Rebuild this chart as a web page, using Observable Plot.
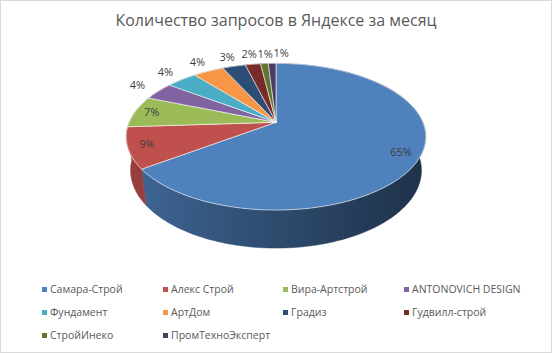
<!DOCTYPE html>
<html>
<head>
<meta charset="utf-8">
<script src="https://cdn.jsdelivr.net/npm/d3@7"></script>
<script src="https://cdn.jsdelivr.net/npm/@observablehq/plot@0.6"></script>
<style>
  html, body { margin: 0; padding: 0; background: #fff; }
  #chart { position: relative; width: 552px; height: 353px; box-sizing: border-box; border: 1px solid #d9d9d9; background: #fff; overflow: hidden; font-family: "Open Sans", sans-serif; }
  #title { position: absolute; left: 0; right: 0; top: 9px; text-align: center; font-size: 16px; line-height: 20px; color: #595959; }
  #plot { position: absolute; left: -1px; top: -1px; }
  #legend { position: absolute; left: 0; top: 0; width: 552px; height: 353px; }
  .item { position: absolute; font-size: 10.5px; line-height: 14px; color: #595959; white-space: nowrap; }
  .sw { display: inline-block; width: 5px; height: 5px; margin-right: 3px; vertical-align: 1px; }
</style>
</head>
<body>
<div id="chart">
  <div id="plot"></div>
  <div id="title">Количество запросов в Яндексе за месяц</div>
  <div id="legend"></div>
</div>
<script>
const categories = ["Самара-Строй","Алекс Строй","Вира-Артстрой","ANTONOVICH DESIGN","Фундамент","АртДом","Градиз","Гудвилл-строй","СтройИнеко","ПромТехноЭксперт"];
const shares = [65, 9, 7, 4, 4, 4, 3, 2, 1, 1];
const colors = ["#4F81BD","#C0504D","#9BBB59","#8064A2","#4BACC6","#F79646","#2C4D75","#772C2A","#5F7530","#4D3B62"];
const labels = shares.map(v => v + "%");

// 3D view parameters
const s = 0.48, c = Math.sqrt(1 - s * s);
const D = 5.07 * c;          // camera distance
const t = 0.265;             // pie thickness
const ax = 147.1;            // pixels per unit at center
const W = 552, H = 270, cx = 276, cy = 122;

function proj(X, Y, Z) {
  const depth = D - Y * s - Z * c;
  return { u: X * D / depth, v: (Z * s - Y * c) * D / depth };
}
function rim(theta, r, Y) {
  const a = theta * Math.PI / 180;
  return proj(r * Math.sin(a), Y, -r * Math.cos(a));
}

const total = d3.sum(shares);
const slices = [];
let acc = 0;
shares.forEach((v, i) => {
  const a0 = acc / total * 360, a1 = (acc + v) / total * 360;
  slices.push({ i, a0, a1, mid: (a0 + a1) / 2, v });
  acc += v;
});

// tops
const tops = [];
const walls = [];
slices.forEach(sl => {
  const n = Math.max(2, Math.ceil((sl.a1 - sl.a0) / 1));
  const apex = proj(0, 0, 0);
  tops.push({ id: "t" + sl.i, color: colors[sl.i], ...apex });
  for (let k = 0; k <= n; k++) {
    const th = sl.a0 + (sl.a1 - sl.a0) * k / n;
    tops.push({ id: "t" + sl.i, color: colors[sl.i], ...rim(th, 1, 0) });
  }
  tops.push({ id: "t" + sl.i, color: colors[sl.i], ...apex });
  // wall: top arc forward, bottom arc backward
  const fillRef = `url(#wg${sl.i})`;
  for (let k = 0; k <= n; k++) {
    const th = sl.a0 + (sl.a1 - sl.a0) * k / n;
    walls.push({ id: "w" + sl.i, color: fillRef, ...rim(th, 1, 0) });
  }
  for (let k = n; k >= 0; k--) {
    const th = sl.a0 + (sl.a1 - sl.a0) * k / n;
    walls.push({ id: "w" + sl.i, color: fillRef, ...rim(th, 1, -t) });
  }
});

// labels
const labelPts = slices.map(sl => {
  const inside = sl.v >= 5;
  const p = rim(sl.mid, inside ? 0.88 : 1.2, 0);
  return { text: labels[sl.i], inside, ...p };
});
let prev = null;
labelPts.forEach(l => {
  if (l.inside) return;
  if (prev && Math.abs(l.v - prev.v) * ax < 12 && (l.u - prev.u) * ax < 16) {
    l.u = prev.u + 16 / ax;
  }
  prev = l;
});

const plot = Plot.plot({
  width: W, height: H,
  margin: 0,
  x: { domain: [-cx / ax, (W - cx) / ax], axis: null },
  y: { domain: [(H - cy) / ax, -cy / ax], axis: null },
  color: { type: "identity" },
  marks: [
    Plot.line(walls, { x: "u", y: "v", z: "id", fill: "color", stroke: "color", strokeWidth: 0.5, curve: "linear-closed" }),
    Plot.line(tops, { x: "u", y: "v", z: "id", fill: "color", stroke: "white", strokeWidth: 0.7, strokeOpacity: 0.85, strokeLinejoin: "round", curve: "linear" }),
    Plot.text(labelPts, { x: "u", y: "v", text: "text", fill: "#404040", fontSize: 11, fontFamily: "Open Sans", textAnchor: "middle", lineAnchor: "middle" })
  ]
});

// gradients for the side walls (lit from the left)
const ns = "http://www.w3.org/2000/svg";
const defs = document.createElementNS(ns, "defs");
const gx0 = cx - 1.02 * ax, gx1 = cx + 1.02 * ax;
colors.forEach((col, i) => {
  const g = document.createElementNS(ns, "linearGradient");
  g.setAttribute("id", "wg" + i);
  g.setAttribute("gradientUnits", "userSpaceOnUse");
  g.setAttribute("x1", gx0); g.setAttribute("x2", gx1);
  g.setAttribute("y1", 0); g.setAttribute("y2", 0);
  const base = d3.rgb(col);
  [[0, 0.80], [0.5, 0.58], [1, 0.38]].forEach(([o, m]) => {
    const st = document.createElementNS(ns, "stop");
    st.setAttribute("offset", o);
    st.setAttribute("stop-color", d3.rgb(base.r * m, base.g * m, base.b * m).formatHex());
    g.appendChild(st);
  });
  defs.appendChild(g);
});
plot.insertBefore(defs, plot.firstChild);
document.getElementById("plot").appendChild(plot);

// legend
const legend = document.getElementById("legend");
const colX = [41, 162, 282, 403];
const rowY = [289, 312, 335];
categories.forEach((name, i) => {
  const el = document.createElement("div");
  el.className = "item";
  el.style.left = colX[i % 4] + "px";
  el.style.top = (rowY[Math.floor(i / 4)] - 8) + "px";
  el.innerHTML = `<span class="sw" style="background:${colors[i]}"></span>${name}`;
  legend.appendChild(el);
});
</script>
</body>
</html>
